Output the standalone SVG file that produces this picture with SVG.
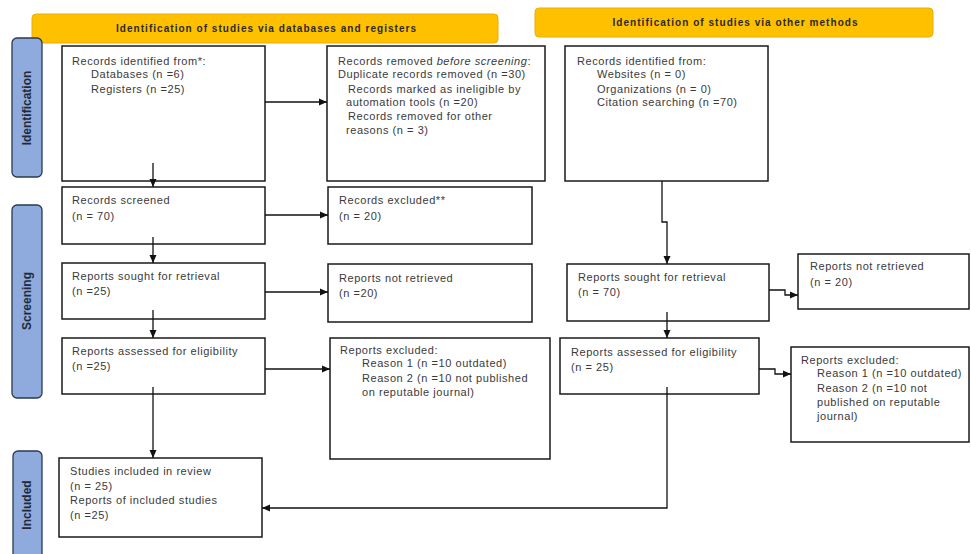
<svg xmlns="http://www.w3.org/2000/svg" width="971" height="554" viewBox="0 0 971 554">
<style>
.box{fill:#fff;stroke:#1a1a1a;stroke-width:1.5}
.hdr{fill:#ffc000;stroke:#e8b000;stroke-width:1}
.side{fill:#8faadc;stroke:#2b3a4e;stroke-width:1.3}
.t{font-family:"Liberation Sans",Arial,sans-serif;font-size:11px;fill:#3a3a3a;letter-spacing:0.55px}
.h{font-family:"Liberation Sans",Arial,sans-serif;font-size:10px;font-weight:bold;fill:#2a2a2a;text-anchor:middle}
.s{font-family:"Liberation Sans",Arial,sans-serif;font-size:12px;font-weight:bold;fill:#1f2a3a;text-anchor:middle}
.c{fill:none;stroke:#111;stroke-width:1.3}
</style>
<defs>
<marker id="ah" markerUnits="userSpaceOnUse" markerWidth="8" markerHeight="8" refX="8" refY="4" orient="auto">
<path d="M0,0.5 L8,4 L0,7.5 z" fill="#111"/>
</marker>
</defs>
<rect width="971" height="554" fill="#fff"/>

<g id="header-left">
<rect class="hdr" x="32" y="14" width="466" height="29" rx="4"/>
<text class="h" x="266" y="32" textLength="300" lengthAdjust="spacing">Identification of studies via databases  and registers</text>
</g>
<g id="header-right">
<rect class="hdr" x="535" y="8" width="398" height="29" rx="4"/>
<text class="h" x="735" y="26" textLength="245" lengthAdjust="spacing">Identification of studies via other methods</text>
</g>

<g id="label-identification">
<rect class="side" x="12" y="38" width="30" height="139" rx="5"/>
<text class="s" transform="translate(31,108) rotate(-90)">Identification</text>
</g>
<g id="label-screening">
<rect class="side" x="12" y="205" width="30" height="193" rx="5"/>
<text class="s" transform="translate(31,301) rotate(-90)">Screening</text>
</g>
<g id="label-included">
<rect class="side" x="13" y="451" width="29" height="115" rx="5"/>
<text class="s" transform="translate(31,505) rotate(-90)">Included</text>
</g>

<g id="records-identified">
<rect class="box" x="62" y="46" width="203" height="135"/>
<text class="t" x="72" y="65">Records identified from*:</text>
<text class="t" x="91" y="78">Databases  (n =6)</text>
<text class="t" x="91" y="93">Registers (n =25)</text>
</g>
<g id="records-removed">
<rect class="box" x="327" y="46" width="218" height="135"/>
<text class="t" x="338" y="65">Records removed <tspan font-style="italic">before screening</tspan>:</text>
<text class="t" x="338" y="78">Duplicate records removed  (n =30)</text>
<text class="t" x="348" y="93">Records marked as ineligible by</text>
<text class="t" x="346" y="106">automation  tools (n =20)</text>
<text class="t" x="348" y="120">Records removed for other</text>
<text class="t" x="346" y="134">reasons  (n = 3)</text>
</g>
<g id="records-identified-other">
<rect class="box" x="565" y="46" width="203" height="135"/>
<text class="t" x="577" y="65">Records identified from:</text>
<text class="t" x="597" y="78">Websites (n = 0)</text>
<text class="t" x="597" y="93">Organizations  (n = 0)</text>
<text class="t" x="597" y="106">Citation searching (n =70)</text>
</g>

<g id="records-screened">
<rect class="box" x="62" y="187" width="203" height="57"/>
<text class="t" x="72" y="204">Records screened</text>
<text class="t" x="72" y="220">(n = 70)</text>
</g>
<g id="records-excluded">
<rect class="box" x="328" y="187" width="204" height="57"/>
<text class="t" x="339" y="204">Records excluded**</text>
<text class="t" x="339" y="220">(n = 20)</text>
</g>
<g id="reports-sought">
<rect class="box" x="62" y="263" width="203" height="56"/>
<text class="t" x="72" y="280">Reports sought  for retrieval</text>
<text class="t" x="72" y="295">(n =25)</text>
</g>
<g id="reports-not-retrieved">
<rect class="box" x="328" y="264" width="204" height="58"/>
<text class="t" x="339" y="282">Reports not retrieved</text>
<text class="t" x="339" y="297">(n =20)</text>
</g>
<g id="reports-assessed">
<rect class="box" x="62" y="338" width="203" height="56"/>
<text class="t" x="72" y="355">Reports assessed  for eligibility</text>
<text class="t" x="72" y="370">(n =25)</text>
</g>
<g id="reports-excluded">
<rect class="box" x="330" y="338" width="220" height="121"/>
<text class="t" x="340" y="354">Reports excluded:</text>
<text class="t" x="362" y="367">Reason  1 (n =10 outdated)</text>
<text class="t" x="362" y="382">Reason  2 (n =10 not published</text>
<text class="t" x="362" y="396">on reputable  journal)</text>
</g>

<g id="reports-sought-other">
<rect class="box" x="567" y="264" width="202" height="57"/>
<text class="t" x="578" y="281">Reports sought  for retrieval</text>
<text class="t" x="578" y="296">(n = 70)</text>
</g>
<g id="reports-not-retrieved-other">
<rect class="box" x="798" y="254" width="171" height="55"/>
<text class="t" x="810" y="270">Reports not retrieved</text>
<text class="t" x="810" y="286">(n = 20)</text>
</g>
<g id="reports-assessed-other">
<rect class="box" x="560" y="338" width="199" height="56"/>
<text class="t" x="571" y="356">Reports assessed  for eligibility</text>
<text class="t" x="571" y="371">(n = 25)</text>
</g>
<g id="reports-excluded-other">
<rect class="box" x="791" y="347" width="178" height="95"/>
<text class="t" x="801" y="364">Reports excluded:</text>
<text class="t" x="817" y="377">Reason  1 (n =10 outdated)</text>
<text class="t" x="817" y="392">Reason  2 (n =10 not</text>
<text class="t" x="817" y="406">published on reputable</text>
<text class="t" x="817" y="420">journal)</text>
</g>

<g id="studies-included">
<rect class="box" x="59" y="458" width="203" height="79"/>
<text class="t" x="70" y="475">Studies  included  in review</text>
<text class="t" x="70" y="490">(n = 25)</text>
<text class="t" x="70" y="504">Reports of included  studies</text>
<text class="t" x="70" y="519">(n =25)</text>
</g>

<g id="connectors">
<path class="c" d="M265,102 H327" marker-end="url(#ah)"/>
<path class="c" d="M153,163 V187" marker-end="url(#ah)"/>
<path class="c" d="M265,215 H328" marker-end="url(#ah)"/>
<path class="c" d="M153,237 V263" marker-end="url(#ah)"/>
<path class="c" d="M265,292 H328" marker-end="url(#ah)"/>
<path class="c" d="M153,310 V338" marker-end="url(#ah)"/>
<path class="c" d="M265,369 H330" marker-end="url(#ah)"/>
<path class="c" d="M153,387 V458" marker-end="url(#ah)"/>
<path class="c" d="M662,181 V222 H667 V264" marker-end="url(#ah)"/>
<path class="c" d="M769,290 H785 V295 H798" marker-end="url(#ah)"/>
<path class="c" d="M667,312 V338" marker-end="url(#ah)"/>
<path class="c" d="M759,369 H775 V374 H791" marker-end="url(#ah)"/>
<path class="c" d="M667,387 V508 H262" marker-end="url(#ah)"/>
</g>
</svg>
